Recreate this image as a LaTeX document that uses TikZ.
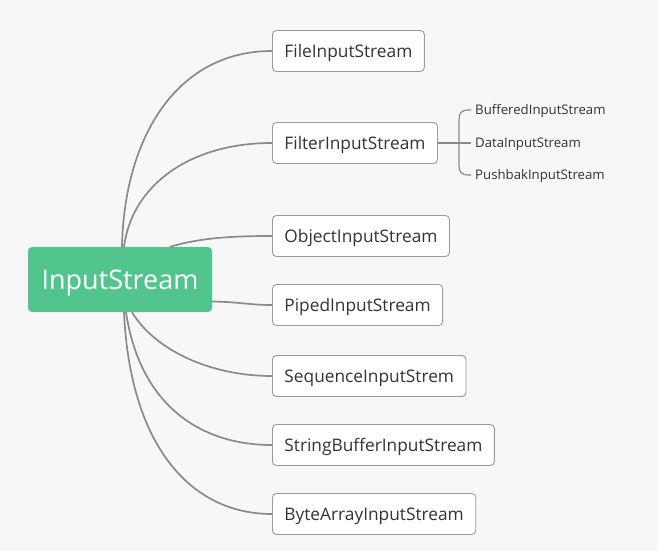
\documentclass[tikz,border=0pt]{standalone}
\usepackage{fontspec}
\setmainfont{Open Sans}
\definecolor{bg}{HTML}{F7F7F7}
\definecolor{rootg}{HTML}{52C48E}
\definecolor{edge}{HTML}{8A8A8A}
\definecolor{boxline}{HTML}{9A9A9A}
\definecolor{txt}{HTML}{333333}
\tikzset{
  leaf/.style={draw=boxline, line width=0.9pt, fill=white, rounded corners=4pt, anchor=west,
    minimum height=41pt, inner xsep=12pt, text=txt, font=\fontsize{17.3}{19}\selectfont,
    text height=12.3pt, text depth=0pt},
  sub/.style={anchor=west, inner sep=0pt, text=txt, font=\fontsize{13.2}{15}\selectfont,
    text height=9.4pt, text depth=0pt},
  conn/.style={draw=edge, line width=1.7pt},
  thin/.style={draw=edge, line width=1.2pt}
}
\begin{document}
\begin{tikzpicture}[x=1pt,y=-1pt]
\fill[bg] (0,0) rectangle (658,551);
\useasboundingbox (0,0) rectangle (658,551);
\node[fill=rootg, rounded corners=4pt, minimum width=184pt, minimum height=65pt, text=white,
  font=\fontsize{27}{30}\selectfont, inner sep=0pt, text height=19.3pt, text depth=0pt] (root) at (120,279.5) {InputStream};
\node[leaf] (file) at (272,51) {FileInputStream};
\node[leaf] (filter) at (272,143) {FilterInputStream};
\node[leaf] (object) at (272,236) {ObjectInputStream};
\node[leaf] (piped) at (272,305) {PipedInputStream};
\node[leaf] (seq) at (272,376) {SequenceInputStrem};
\node[leaf] (sbuf) at (272,445) {StringBufferInputStream};
\node[leaf] (bytes) at (272,514) {ByteArrayInputStream};
\node[sub] (buf) at (475,110) {BufferedInputStream};
\node[sub] (data) at (475,143) {DataInputStream};
\node[sub] (push) at (475,175) {PushbakInputStream};
\coordinate (br) at (459,143);

\draw[conn] ([xshift=2pt]root.north) .. controls (124,140) and (175,51) .. (file.west);
\draw[conn] ([xshift=4pt]root.north) .. controls (132,185) and (190,143) .. (filter.west);
\draw[conn] ([xshift=50pt]root.north) .. controls (200,238) and (230,236) .. (object.west);
\draw[conn] ([yshift=-22pt]root.east) .. controls (240,302) and (250,305) .. (piped.west);
\draw[conn] ([xshift=12pt]root.south) .. controls (155,350) and (210,376) .. (seq.west);
\draw[conn] ([xshift=6pt]root.south) .. controls (140,405) and (200,445) .. (sbuf.west);
\draw[conn] ([xshift=4pt]root.south) .. controls (130,445) and (190,514) .. (bytes.west);

\draw[thin] (filter.east) -- (br);
\draw[thin] ([xshift=-4pt]buf.west) -- (469,110) .. controls (461,110) and (459,113) .. (459,120)
  -- (459,165) .. controls (459,172) and (461,175) .. (469,175) -- ([xshift=-4pt]push.west);
\draw[thin] (br) -- ([xshift=-4pt]data.west);
\end{tikzpicture}
\end{document}
